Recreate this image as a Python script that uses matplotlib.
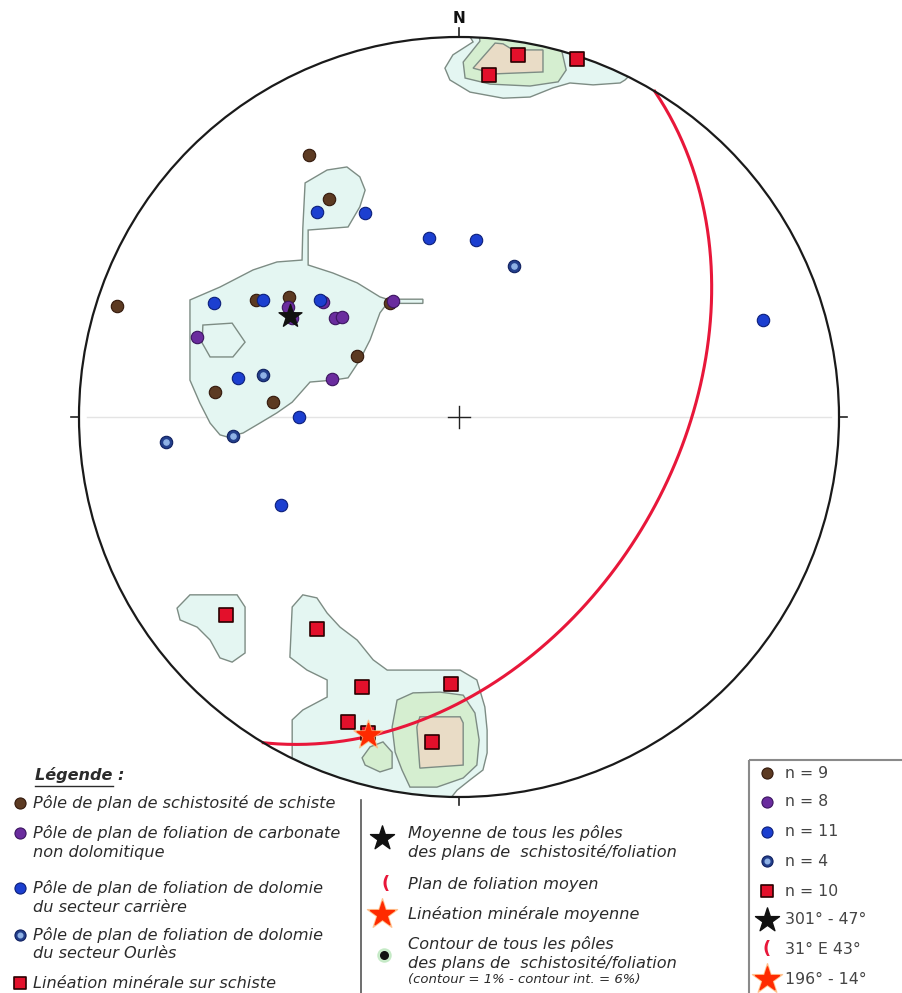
import numpy as np
import matplotlib
matplotlib.use("Agg")
import matplotlib.pyplot as plt
from matplotlib.patches import Circle, Polygon, Rectangle

plt.rcParams["font.family"] = ["DejaVu Sans"]

# --- data: poles, projected on the lower hemisphere equal-area net (radius = 100)
schiste_x = [-39.5, -34.2, -90.0, -53.4, -44.7, -18.2, -26.8, -64.2, -48.9]
schiste_y = [68.9, 57.4, 29.2, 30.8, 31.6, 30.0, 16.1, 6.6, 3.9]

carbonate_x = [-68.9, -32.6, -30.8, -33.4, -45.0, -17.4, -35.8, -43.9]
carbonate_y = [21.1, 26.1, 26.3, 10.0, 28.9, 30.5, 30.3, 26.1]

carriere_x = [-37.4, -24.7, -7.9, 4.5, 80.0, -64.5, -51.6, -36.6, -58.2, -42.1, -46.8]
carriere_y = [53.9, 53.7, 47.1, 46.6, 25.5, 30.0, 30.8, 30.8, 10.3, 0.0, -23.2]

ourles_x = [14.5, -51.6, -59.5, -77.1]
ourles_y = [39.7, 11.1, -5.0, -6.6]

lineation_x = [15.5, 31.1, 7.9, -61.3, -37.4, -25.5, -2.1, -29.2, -7.1, -23.9]
lineation_y = [95.3, 94.2, 90.0, -52.1, -55.8, -71.1, -70.3, -80.3, -85.5, -83.2]

mean_pole = (301, 47)        # trend, plunge
mean_plane = (31, 43)        # strike, dip (E)
mean_lineation = (196, 14)   # trend, plunge

# density contours (1 % outer, 6 % steps)
main_outer = [(-70.8, 30.8), (-70.8, 9.7), (-68.2, 3.7), (-65.5, -1.6), (-62.9, -4.7),
              (-60.8, -5.3), (-56.8, -4.2), (-52.4, -1.6), (-47.9, 1.1), (-43.9, 3.9),
              (-39.2, 9.2), (-33.2, 9.7), (-29.2, 10.3), (-26.1, 15.0), (-23.4, 20.3),
              (-20.8, 27.4), (-18.9, 29.9), (-9.5, 29.9), (-9.5, 31.0), (-18.9, 31.0),
              (-20.8, 31.6), (-26.8, 35.3), (-33.2, 37.9), (-39.7, 40.0), (-39.7, 49.2),
              (-29.2, 50.0), (-26.1, 55.3), (-24.7, 59.7), (-26.1, 63.2), (-29.5, 65.8),
              (-34.7, 65.0), (-40.5, 61.6), (-41.1, 49.7), (-41.3, 41.3), (-47.9, 40.8),
              (-54.2, 38.7), (-62.9, 34.2)]
main_hole = [(-67.4, 24.2), (-59.7, 24.7), (-56.3, 19.7), (-59.5, 15.8), (-65.5, 15.8),
             (-67.6, 19.5)]

north_outer = [(3.7, 98.7), (-1.6, 95.3), (-3.7, 91.8), (-2.4, 88.7), (2.9, 85.5),
               (11.6, 83.9), (18.7, 84.2), (24.7, 86.6), (29.2, 87.9), (35.3, 87.4),
               (42.4, 87.9), (43.7, 88.7), (50.0, 95.0), (0.0, 105.0)]
north_mid = [(5.5, 98.9), (1.1, 93.4), (1.6, 89.2), (8.2, 87.6), (18.7, 87.1),
             (26.1, 88.2), (28.2, 91.3), (27.1, 96.1), (27.0, 104.0), (5.0, 104.0)]
north_inner = [(9.5, 98.4), (3.7, 91.8), (9.5, 90.3), (22.1, 90.8), (22.1, 96.6),
               (14.2, 96.6), (11.6, 98.2)]

sw_small = [(-74.2, -50.3), (-70.8, -46.8), (-58.4, -46.8), (-56.3, -50.0), (-56.3, -62.1),
            (-59.7, -64.5), (-62.9, -63.4), (-65.5, -58.7), (-68.9, -55.3), (-73.4, -53.4)]
south_outer = [(-43.9, -50.0), (-41.1, -46.8), (-37.4, -47.6), (-34.7, -51.6), (-31.3, -55.3),
               (-26.8, -58.7), (-22.6, -63.9), (-18.9, -66.6), (0.3, -66.6), (4.7, -69.2),
               (6.8, -76.3), (7.4, -82.4), (7.4, -88.4), (6.3, -92.9), (2.9, -95.5),
               (-0.5, -98.2), (-10.0, -110.0), (-50.0, -95.0), (-43.9, -89.5),
               (-43.9, -79.7), (-41.1, -77.1), (-34.7, -73.7), (-34.7, -69.2),
               (-40.0, -66.6), (-44.5, -63.2)]
south_mid = [(-16.3, -74.5), (-12.1, -72.6), (-5.0, -72.4), (1.1, -73.2), (4.2, -77.9),
             (5.3, -85.0), (4.7, -91.6), (1.1, -95.0), (-5.8, -97.4), (-12.9, -97.4),
             (-15.0, -92.9), (-16.8, -88.2), (-17.6, -81.6)]
south_pocket = [(-25.5, -89.7), (-23.4, -86.8), (-20.0, -85.5), (-17.6, -88.2),
                (-17.6, -92.4), (-20.8, -93.4), (-24.7, -91.6)]
south_inner = [(-11.1, -81.6), (-10.3, -78.9), (0.3, -78.9), (1.1, -80.5), (1.1, -91.6),
               (-10.3, -92.4)]

# legend texts
legend_left = [
    ("schiste", ["Pôle de plan de schistosité de schiste"]),
    ("carbonate", ["Pôle de plan de foliation de carbonate", "non dolomitique"]),
    ("carriere", ["Pôle de plan de foliation de dolomie", "du secteur carrière"]),
    ("ourles", ["Pôle de plan de foliation de dolomie", "du secteur Ourlès"]),
    ("lineation", ["Linéation minérale sur schiste"]),
]
legend_right = [("schiste", "n = 9"), ("carbonate", "n = 8"), ("carriere", "n = 11"),
                ("ourles", "n = 4"), ("lineation", "n = 10"), ("mean_pole", "301° - 47°"),
                ("plane", "31° E 43°"), ("mean_lin", "196° - 14°")]


def project(trend, plunge):
    """Schmidt (equal-area) lower hemisphere, net radius 100."""
    t = np.radians(trend)
    p = np.radians(plunge)
    r = 100 * np.sqrt(2) * np.sin((np.pi / 2 - p) / 2)
    return r * np.sin(t), r * np.cos(t)


def great_circle(strike, dip, n=200):
    s, d = np.radians(strike), np.radians(dip)
    dd = s + np.pi / 2
    sv = np.array([np.sin(s), np.cos(s), 0.0])
    dv = np.array([np.cos(d) * np.sin(dd), np.cos(d) * np.cos(dd), -np.sin(d)])
    xs, ys = [], []
    for a in np.linspace(0, np.pi, n):
        v = np.cos(a) * sv + np.sin(a) * dv
        plunge = np.degrees(np.arcsin(np.clip(-v[2], -1, 1)))
        trend = np.degrees(np.arctan2(v[0], v[1]))
        x, y = project(trend, plunge)
        xs.append(x)
        ys.append(y)
    return xs, ys


styles = {
    "schiste": dict(marker="o", s=80, c="#5c3a22", edgecolors="#33190c", linewidths=0.8),
    "carbonate": dict(marker="o", s=80, c="#6a2c9e", edgecolors="#3b1560", linewidths=0.8),
    "carriere": dict(marker="o", s=80, c="#1c3fd0", edgecolors="#0c1f7a", linewidths=0.8),
    "ourles": dict(marker="o", s=80, c="#233f8c", edgecolors="#0f2060", linewidths=0.8),
    "lineation": dict(marker="s", s=95, c="#e3102b", edgecolors="#2a0000", linewidths=1.2),
}

W, H = 903, 993
cx, cy, R = 459, 417, 380
scale = R / 100.0
fig = plt.figure(figsize=(W / 100, H / 100), dpi=100)
ax = fig.add_axes([0, 0, 1, 1])
ax.set_xlim(-cx / scale, (W - cx) / scale)
ax.set_ylim((cy - H) / scale, cy / scale)
ax.axis("off")

net = Circle((0, 0), 100, fill=False, ec="#1a1a1a", lw=1.6, zorder=6)
clip = Circle((0, 0), 100, transform=ax.transData)

line_col = "#7d8c84"
fills = [(main_outer, "#e4f6f2"), (main_hole, "#e4f6f2"), (north_outer, "#e4f6f2"),
         (north_mid, "#d5eed0"), (north_inner, "#e9dcc6"), (sw_small, "#e4f6f2"),
         (south_outer, "#e4f6f2"), (south_mid, "#d5eed0"), (south_pocket, "#d5eed0"),
         (south_inner, "#e9dcc6")]
for pts, col in fills:
    poly = Polygon(pts, closed=True, fc=col, ec=line_col, lw=1.0, zorder=1)
    ax.add_patch(poly)
    poly.set_clip_path(clip)

# axes of the net
ax.plot([-98, 98], [0, 0], color="#e4e4e4", lw=1.0, zorder=0.5)
ax.plot([-3, 3], [0, 0], color="#222", lw=1.0, zorder=5)
ax.plot([0, 0], [-3, 3], color="#222", lw=1.0, zorder=5)
ax.plot([0, 0], [100, 102.5], color="#222", lw=1.2, zorder=5)
ax.plot([0, 0], [-100, -102], color="#222", lw=1.2, zorder=5)
ax.plot([100, 102], [0, 0], color="#222", lw=1.2, zorder=5)
ax.plot([-100, -102], [0, 0], color="#222", lw=1.2, zorder=5)
ax.text(0, 104.8, "N", ha="center", va="center", fontsize=11, fontweight="bold",
        color="#111")
ax.add_patch(net)

gx, gy = great_circle(*mean_plane)
ax.plot(gx, gy, color="#e8173a", lw=2.2, zorder=4)

ax.scatter(schiste_x, schiste_y, zorder=7, **styles["schiste"])
ax.scatter(carbonate_x, carbonate_y, zorder=7, **styles["carbonate"])
ax.scatter(carriere_x, carriere_y, zorder=7, **styles["carriere"])
ax.scatter(ourles_x, ourles_y, zorder=7, **styles["ourles"])
ax.scatter(ourles_x, ourles_y, marker="o", s=14, c="#8fb2e6", zorder=8)
ax.scatter(lineation_x, lineation_y, zorder=7, **styles["lineation"])

px, py = project(*mean_pole)
ax.scatter([px], [py], marker="*", s=300, c="#111111", zorder=9)
lx, ly = project(*mean_lineation)
ax.scatter([lx], [ly], marker="*", s=480, c="#ffb070", alpha=0.7, zorder=9)
ax.scatter([lx], [ly], marker="*", s=300, c="#ff2a00", zorder=10)

# ---- legend (pixel coordinates)
lg = fig.add_axes([0, 0, 1, 1])
lg.set_xlim(0, W)
lg.set_ylim(H, 0)
lg.axis("off")
lg.patch.set_alpha(0)

txt = dict(fontsize=11.6, style="italic", color="#2b2b2b", va="center", ha="left")


def legend_marker(kind, x, y):
    if kind in styles:
        st = dict(styles[kind])
        st["s"] = st["s"] * 0.8
        lg.scatter([x], [y], zorder=5, **st)
        if kind == "ourles":
            lg.scatter([x], [y], marker="o", s=11, c="#8fb2e6", zorder=6)
    elif kind == "mean_pole":
        lg.scatter([x], [y], marker="*", s=330, c="#111111", zorder=5)
    elif kind == "mean_lin":
        lg.scatter([x], [y], marker="*", s=520, c="#ffb070", alpha=0.7, zorder=5)
        lg.scatter([x], [y], marker="*", s=330, c="#ff2a00", zorder=6)
    elif kind == "plane":
        lg.text(x, y, "(", color="#e8173a", fontsize=13, fontweight="bold",
                ha="center", va="center")
    elif kind == "contour":
        lg.scatter([x], [y], marker="o", s=90, c="#bfe8c0", alpha=0.8, zorder=5)
        lg.scatter([x], [y], marker="o", s=30, c="#111111", zorder=6)


lg.text(35, 775, "Légende :", fontsize=11.6, style="italic", fontweight="bold",
        color="#2b2b2b", va="center", ha="left")
lg.plot([35, 113], [786, 786], color="#2b2b2b", lw=1.0)

left_rows = [803, 833, 888, 935, 983]
for (kind, lines), y0 in zip(legend_left, left_rows):
    legend_marker(kind, 20, y0)
    for i, line in enumerate(lines):
        lg.text(33, y0 + 19 * i, line, **txt)

lg.plot([361, 361], [800, 993], color="#555555", lw=1.2)
legend_marker("mean_pole", 382, 838)
lg.text(408, 833, "Moyenne de tous les pôles", **txt)
lg.text(408, 852, "des plans de  schistosité/foliation", **txt)
legend_marker("plane", 386, 884)
lg.text(408, 884, "Plan de foliation moyen", **txt)
legend_marker("mean_lin", 382, 914)
lg.text(408, 914, "Linéation minérale moyenne", **txt)
legend_marker("contour", 384, 955)
lg.text(408, 944, "Contour de tous les pôles", **txt)
lg.text(408, 963, "des plans de  schistosité/foliation", **txt)
lg.text(408, 980, "(contour = 1% - contour int. = 6%)", fontsize=9.5, style="italic",
        color="#2b2b2b", va="center", ha="left")

lg.add_patch(Rectangle((749, 760), 160, 240, fill=False, ec="#8a8a8a", lw=1.5))
right_rows = [773, 802, 832, 861, 891, 920, 949, 979]
for (kind, label), y0 in zip(legend_right, right_rows):
    legend_marker(kind, 767, y0)
    lg.text(785, y0, label, fontsize=11.3, color="#444444", va="center", ha="left")

fig.savefig("out.png", dpi=100)
